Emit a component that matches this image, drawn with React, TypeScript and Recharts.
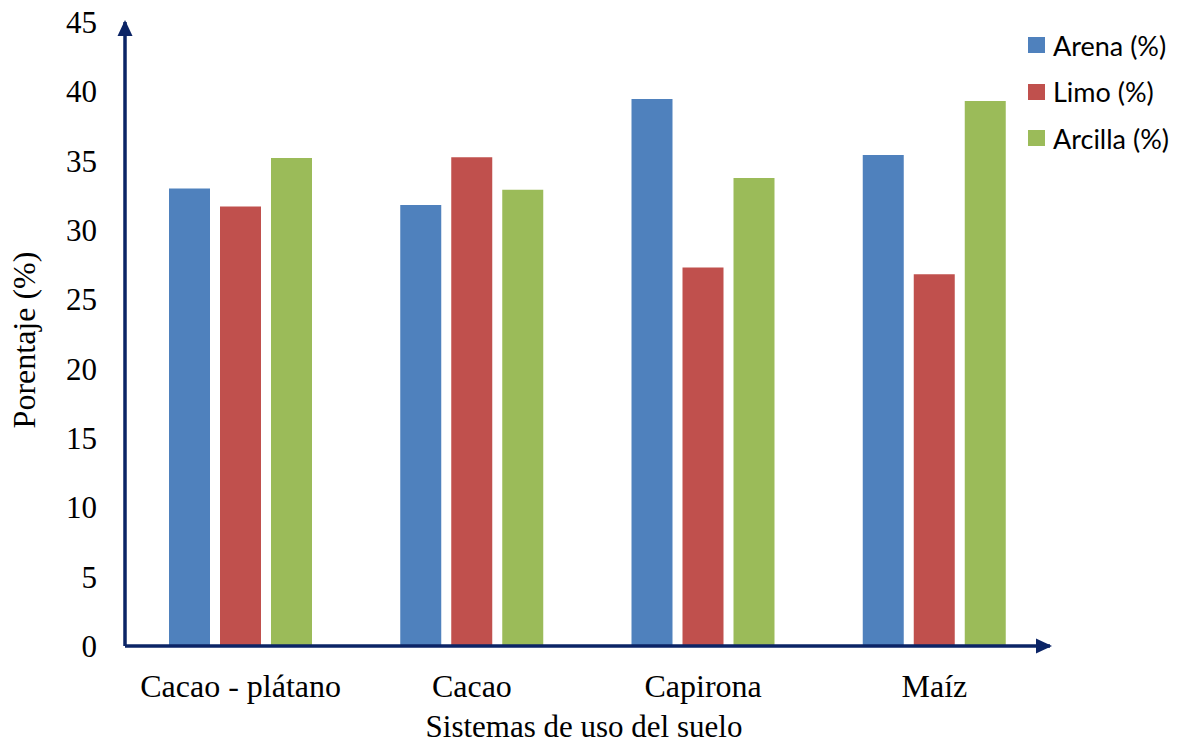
import { Bar, BarChart, Legend, XAxis, YAxis } from "recharts";

const categories = ["Cacao - plátano", "Cacao", "Capirona", "Maíz"];
const arena = [33.0, 31.8, 39.45, 35.4];
const limo = [31.7, 35.25, 27.3, 26.8];
const arcilla = [35.2, 32.9, 33.75, 39.3];
const yTicks = [0, 5, 10, 15, 20, 25, 30, 35, 40, 45];

const series = [
  { key: "arena", name: "Arena (%)", color: "#4F81BD" },
  { key: "limo", name: "Limo (%)", color: "#C0504D" },
  { key: "arcilla", name: "Arcilla (%)", color: "#9BBB59" }
];

const data = categories.map((name, i) => ({
  name,
  arena: arena[i],
  limo: limo[i],
  arcilla: arcilla[i]
}));

const axisColor = "#0B2466";
const serif = "'Liberation Serif', 'Times New Roman', serif";
const yTickStyle = { fill: "#000", fontSize: 31, fontFamily: serif };
const xTickStyle = { fill: "#000", fontSize: 32, fontFamily: serif };

function LegendBox() {
  return (
    <div style={{ fontFamily: "Lato, 'Open Sans', sans-serif", fontSize: 27, color: "#000" }}>
      {series.map((s) => (
        <div key={s.key} style={{ height: 46.5, display: "flex", alignItems: "center" }}>
          <span style={{ width: 17, height: 16, background: s.color, marginRight: 8, flex: "none" }} />
          <span style={{ whiteSpace: "nowrap" }}>{s.name}</span>
        </div>
      ))}
    </div>
  );
}

export default function App() {
  return (
    <div style={{ position: "absolute", left: 0, top: 0, width: 1181, height: 744, background: "#fff" }}>
      <BarChart
        width={1181}
        height={744}
        data={data}
        margin={{ top: 22, right: 131, left: 0, bottom: 0 }}
        barSize={41}
        barGap={10}
      >
        <defs>
          <marker
            id="axisArrow"
            markerUnits="userSpaceOnUse"
            markerWidth={16}
            markerHeight={16}
            viewBox="0 0 16 16"
            refX={14}
            refY={8}
            orient="auto-start-reverse"
          >
            <path d="M0,0.5 L16,8 L0,15.5 z" fill={axisColor} />
          </marker>
        </defs>
        <XAxis
          dataKey="name"
          height={98}
          interval={0}
          tickSize={0}
          tickMargin={28}
          tickLine={false}
          tick={xTickStyle}
          axisLine={{ stroke: axisColor, strokeWidth: 3.5, markerEnd: "url(#axisArrow)" }}
          label={{
            position: "insideBottom",
            content: () => (
              <text x={584} y={737} textAnchor="middle" fontFamily={serif} fontSize={31} fill="#000">
                Sistemas de uso del suelo
              </text>
            )
          }}
        />
        <YAxis
          width={125}
          domain={[0, 45]}
          ticks={yTicks}
          interval={0}
          tickSize={0}
          tickMargin={28}
          tickLine={false}
          tick={yTickStyle}
          axisLine={{ stroke: axisColor, strokeWidth: 3.5, markerStart: "url(#axisArrow)" }}
          label={{
            position: "center",
            content: () => (
              <text
                x={35}
                y={340}
                transform="rotate(-90 35 340)"
                textAnchor="middle"
                fontFamily={serif}
                fontSize={32}
                fill="#000"
              >
                Porentaje (%)
              </text>
            )
          }}
        />
        <Legend
          layout="vertical"
          align="center"
          verticalAlign="middle"
          content={() => <LegendBox />}
          wrapperStyle={{ top: 22, left: 1028, width: 160, height: 140 }}
        />
        {series.map((s) => (
          <Bar key={s.key} dataKey={s.key} name={s.name} fill={s.color} isAnimationActive={false} />
        ))}
      </BarChart>
    </div>
  );
}
